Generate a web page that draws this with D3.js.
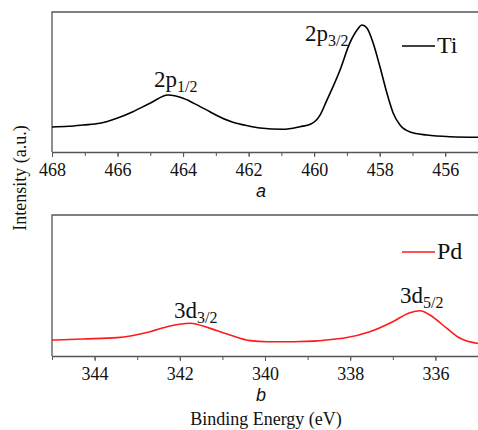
<!DOCTYPE html>
<html>
<head>
<meta charset="utf-8">
<script src="https://cdn.jsdelivr.net/npm/d3@7"></script>
<style>
  body { margin: 0; background: #fff; }
  svg { display: block; }
</style>
</head>
<body>
<svg id="chart" width="478" height="430"></svg>
<script>
var SERIF = "'Liberation Serif', 'Times New Roman', serif";

// Ti 2p spectrum (binding energy eV, intensity a.u.)
var tiEnergy = [468, 467.5, 467.05, 466.54, 466.02, 465.53, 465.01, 464.46, 464.0, 463.48, 463.18, 463.0, 462.48, 462.0, 461.65, 460.95, 460.43, 460.1, 459.82, 459.61, 459.4, 459.21, 458.91, 458.69, 458.54, 458.39, 458.2, 457.99, 457.78, 457.59, 457.38, 457.07, 456.56, 455.85, 455];
var tiIntensity = [17.9, 18.4, 19.3, 20.5, 24.1, 28.8, 34.8, 40.7, 38.4, 32.4, 28.8, 26.4, 21.2, 18.6, 17.2, 16.2, 18.1, 20.0, 26.4, 37.1, 47.9, 58.6, 77.9, 87.1, 90.7, 88.6, 77.9, 60.7, 42.1, 27.9, 19.3, 14.3, 12.1, 10.9, 10.5];

// Pd 3d spectrum
var pdEnergy = [345, 344.27, 343.47, 342.7, 342.23, 341.76, 341.29, 340.82, 340.35, 339.95, 339.34, 338.17, 337.54, 337.0, 336.6, 336.36, 336.13, 335.73, 335.42, 335];
var pdIntensity = [11.3, 12.1, 13.0, 17.2, 21.3, 23.2, 19.6, 14.9, 10.9, 10.1, 10.1, 12.6, 17.2, 24.3, 30.7, 32.1, 29.1, 19.6, 12.6, 8.9];

var tiTicks = [468, 466, 464, 462, 460, 458, 456];
var pdTicks = [344, 342, 340, 338, 336];

var svg = d3.select("#chart");
var left = 52, right = 478;

function panel(opt) {
  var x = d3.scaleLinear().domain(opt.xdom).range([left, right]);
  var y = d3.scaleLinear().domain([0, 100]).range([opt.bottom, opt.top]);
  var g = svg.append("g");

  // frame (left + top), right side runs off the picture
  g.append("path")
    .attr("d", "M" + left + "," + opt.bottom + "V" + opt.top + "H" + right)
    .attr("fill", "none").attr("stroke", "#555").attr("stroke-width", 1.3);

  // minor ticks
  var minor = d3.range(Math.ceil(opt.xdom[1]), Math.floor(opt.xdom[0]) + 1);
  g.append("g")
    .attr("transform", "translate(0," + opt.bottom + ")")
    .call(d3.axisBottom(x).tickValues(minor).tickSize(4).tickFormat(""))
    .call(function(a) { a.select(".domain").remove(); })
    .selectAll("line").attr("stroke", "#555");

  var ax = g.append("g")
    .attr("transform", "translate(0," + opt.bottom + ")")
    .call(d3.axisBottom(x).tickValues(opt.ticks).tickSize(5).tickPadding(6).tickSizeOuter(0));
  ax.attr("font-family", SERIF).attr("font-size", 18);
  ax.select(".domain").attr("stroke", "#555").attr("stroke-width", 1.3);
  ax.selectAll("line").attr("stroke", "#555");
  ax.selectAll("text")
    .style("font-family", SERIF)
    .style("font-size", "18px").attr("fill", "#111");

  var line = d3.line()
    .x(function(d, i) { return x(opt.energy[i]); })
    .y(function(d) { return y(d); })
    .curve(d3.curveMonotoneX);
  g.append("path")
    .datum(opt.intensity)
    .attr("d", line)
    .attr("fill", "none")
    .attr("stroke", opt.color)
    .attr("stroke-width", 1.6);

  // legend
  g.append("line")
    .attr("x1", 402).attr("x2", 435).attr("y1", opt.top + opt.legY).attr("y2", opt.top + opt.legY)
    .attr("stroke", opt.color).attr("stroke-width", 1.5);
  g.append("text")
    .attr("x", 437).attr("y", opt.top + opt.legY + 7)
    .style("font-family", SERIF)
    .style("font-size", "24px").attr("fill", "#111")
    .text(opt.name);

  // peak labels
  opt.peaks.forEach(function(p) {
    var t = g.append("text")
      .attr("x", p[0]).attr("y", p[1])
      .style("font-family", SERIF)
      .style("font-size", "23px").attr("fill", "#111");
    t.append("tspan").text(p[2]);
    t.append("tspan").attr("dy", 5).style("font-size", "16px").text(p[3]);
  });

  svg.append("text")
    .attr("x", 261).attr("y", opt.bottom + 45)
    .attr("text-anchor", "middle")
    .style("font-family", "'Liberation Sans', Arial, sans-serif")
    .style("font-style", "italic").style("font-size", "18px")
    .attr("fill", "#111")
    .text(opt.letter);
}

panel({
  xdom: [468, 455], top: 12, bottom: 152, ticks: tiTicks,
  energy: tiEnergy, intensity: tiIntensity, color: "#000", name: "Ti", legY: 34,
  peaks: [[154, 87, "2p", "1/2"], [305, 41, "2p", "3/2"]], letter: "a"
});

panel({
  xdom: [345, 335], top: 215, bottom: 356, ticks: pdTicks,
  energy: pdEnergy, intensity: pdIntensity, color: "#ff1a1a", name: "Pd", legY: 37,
  peaks: [[174, 318, "3d", "3/2"], [400, 303, "3d", "5/2"]], letter: "b"
});

svg.append("text")
  .attr("x", 266).attr("y", 425)
  .attr("text-anchor", "middle")
  .style("font-family", SERIF)
  .style("font-size", "18px").attr("fill", "#111")
  .text("Binding Energy (eV)");

svg.append("text")
  .attr("transform", "translate(26,178) rotate(-90)")
  .attr("text-anchor", "middle")
  .style("font-family", SERIF)
  .style("font-size", "18px").attr("fill", "#111")
  .text("Intensity (a.u.)");
</script>
</body>
</html>
